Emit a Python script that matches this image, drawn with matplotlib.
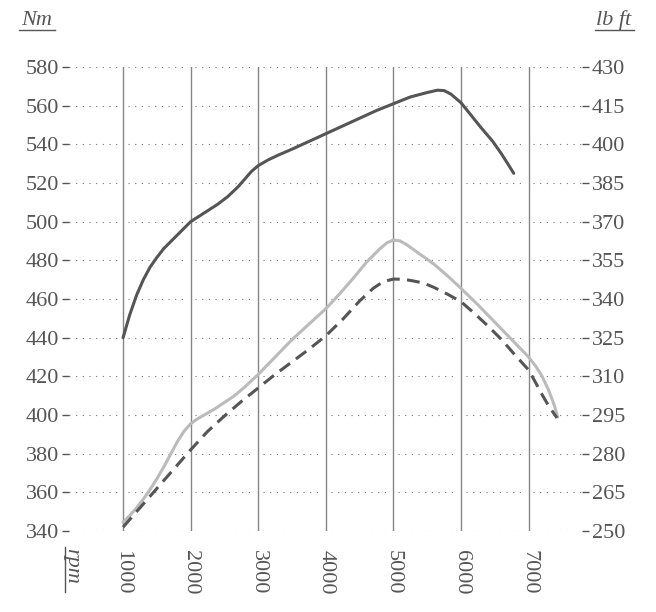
import matplotlib.pyplot as plt
from matplotlib.lines import Line2D

# torque curves (rpm, Nm)
rpm_dark = [1000, 1100, 1200, 1300, 1400, 1500, 1600, 1700, 1800, 1900, 2000, 2200, 2400,
            2550, 2700, 2800, 2900, 3000, 3150, 3300, 3500, 3750, 4000, 4250, 4500, 4750,
            5000, 5250, 5500, 5650, 5750, 5850, 5950, 6000, 6150, 6300, 6470, 6600, 6700, 6780]
nm_dark = [440, 452, 462, 470, 476.5, 481.5, 486, 489.5, 493, 496.5, 500, 504.5, 509,
           513, 518, 522, 526, 529, 532, 534.5, 537.5, 541.5, 545.5, 549.5, 553.5, 557.5,
           561, 564.5, 566.8, 568, 567.8, 566, 563, 561.5, 555, 548.5, 541.5, 535, 529.5, 525]

rpm_light = [1000, 1100, 1200, 1300, 1400, 1500, 1600, 1700, 1800, 1900, 2000, 2100, 2200,
             2350, 2500, 2650, 2800, 3000, 3250, 3500, 3750, 4000, 4200, 4400, 4600, 4800,
             4900, 5000, 5100, 5200, 5400, 5600, 5800, 6000, 6250, 6500, 6750, 7000, 7100,
             7200, 7300, 7380, 7430]
nm_light = [344.5, 348, 352, 356.5, 361.5, 367, 373, 379.5, 386, 391.5, 395.5, 398, 400,
            403, 406.5, 410, 414.5, 421, 430, 439, 447, 455, 462.5, 470.5, 479, 486,
            489, 490.5, 490, 488, 483, 478, 472, 465.5, 457, 448, 439, 430, 425.5,
            420, 412.5, 405, 399]

rpm_dash = [1000, 1250, 1500, 1750, 2000, 2250, 2500, 2750, 3000, 3250, 3500, 3750, 4000,
            4250, 4500, 4700, 4850, 5000, 5150, 5300, 5450, 5600, 5800, 6000, 6200, 6400,
            6600, 6800, 7000, 7100, 7200, 7300, 7420]
nm_dash = [342, 352, 362, 372, 382, 391.5, 399.5, 407, 414, 421, 427.5, 434, 441,
           449.5, 459, 465.5, 469, 470.3, 470.2, 469.3, 468.2, 466, 462.5, 458.6, 452.5, 446,
           439, 431, 423.3, 417, 410.5, 404.5, 398.5]

rpm_ticks = [1000, 2000, 3000, 4000, 5000, 6000, 7000]
nm_ticks = list(range(340, 581, 20))
lbft_ticks = list(range(250, 431, 15))

plt.rcParams['font.family'] = ['Liberation Serif', 'DejaVu Serif']
txt = '#555555'
W, H = 656, 612

fig = plt.figure(figsize=(6.56, 6.12), dpi=100)
ax = fig.add_axes([69 / W, (H - 531) / H, (582 - 69) / W, 464 / H])
ax.set_xlim(200, 7790)
ax.set_ylim(340, 580)

# vertical solid rpm lines
for r in rpm_ticks:
    ax.axvline(r, color='#858585', lw=1.0, zorder=1)

# dotted horizontal lines, broken near the vertical lines
gap = 70
edges = [200] + rpm_ticks + [7790]
for y in nm_ticks:
    for a, b in zip(edges[:-1], edges[1:]):
        x0 = a + (gap if a in rpm_ticks else 0)
        x1 = b - (gap if b in rpm_ticks else 0)
        ax.plot([x0, x1], [y, y], color='#777777', lw=0.8,
                linestyle=(0, (1, 5)), zorder=1)

ax.plot(rpm_dark, nm_dark, color='#555555', lw=2.2, zorder=3,
        solid_capstyle='round', solid_joinstyle='round')
ax.plot(rpm_light, nm_light, color='#bbbbbb', lw=2.2, zorder=2,
        solid_capstyle='round', solid_joinstyle='round')
ax.plot(rpm_dash, nm_dash, color='#555555', lw=2.2, linestyle=(0, (4.2, 2.4)), zorder=3)

for s in ax.spines.values():
    s.set_visible(False)

ax.set_yticks(nm_ticks)
ax.set_yticklabels([str(v) for v in nm_ticks])
ax.tick_params(axis='y', length=5, width=1, color=txt, pad=2,
               labelsize=16, labelcolor=txt)

ax.set_xticks(rpm_ticks)
ax.set_xticklabels([str(v) for v in rpm_ticks], rotation=-90, va='top', ha='center')
ax.tick_params(axis='x', length=0, pad=14, labelsize=16, labelcolor=txt)

ax2 = ax.twinx()
ax2.set_ylim(250, 430)
ax2.set_yticks(lbft_ticks)
ax2.set_yticklabels([str(v) for v in lbft_ticks])
ax2.tick_params(axis='y', length=5, width=1, color=txt, pad=2,
                labelsize=16, labelcolor=txt)
for s in ax2.spines.values():
    s.set_visible(False)

# unit labels with underlines
fig.text(37 / W, 1 - 25 / H, 'Nm', style='italic', fontsize=16, color=txt,
         ha='center', va='baseline')
fig.add_artist(Line2D([19 / W, 55 / W], [1 - 29.5 / H, 1 - 29.5 / H],
                      color=txt, lw=1.0, transform=fig.transFigure))

fig.text(614 / W, 1 - 25 / H, 'lb ft', style='italic', fontsize=16, color=txt,
         ha='center', va='baseline')
fig.add_artist(Line2D([595 / W, 634 / W], [1 - 29.5 / H, 1 - 29.5 / H],
                      color=txt, lw=1.0, transform=fig.transFigure))

fig.text(62 / W, 1 - 548 / H, 'rpm', style='italic', fontsize=16, color=txt,
         rotation=-90, ha='left', va='top')
fig.add_artist(Line2D([65 / W, 65 / W], [1 - 547 / H, 1 - 592 / H],
                      color=txt, lw=1.0, transform=fig.transFigure))

fig.savefig('out.png', dpi=100)
